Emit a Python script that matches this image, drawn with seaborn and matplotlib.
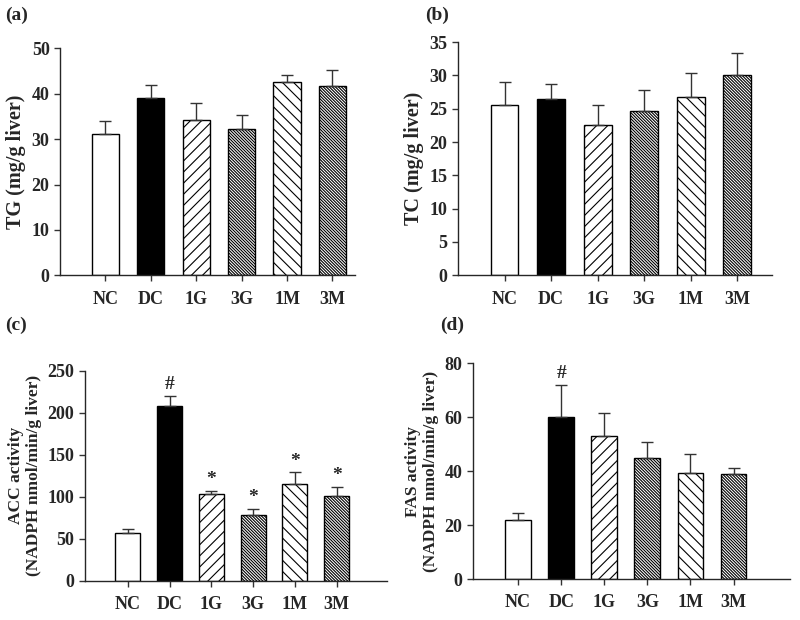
import matplotlib
matplotlib.use('Agg')
import matplotlib.pyplot as plt
import seaborn as sns
import pandas as pd

# ── data ───────────────────────────────────────────────────
groups = ['NC', 'DC', '1G', '3G', '1M', '3M']

tg_mean = [31.1, 39.0, 34.3, 32.3, 42.6, 41.8]
tg_err = [3.0, 3.0, 3.7, 3.1, 1.6, 3.5]

tc_mean = [25.5, 26.4, 22.6, 24.6, 26.7, 30.1]
tc_err = [3.5, 2.3, 3.0, 3.2, 3.6, 3.2]

acc_mean = [57, 208, 103, 79, 115, 101]
acc_err = [5, 12, 4, 7, 14, 11]
acc_marks = ['', '#', '*', '*', '*', '*']

fas_mean = [22.0, 60.2, 53.0, 44.8, 39.5, 39.0]
fas_err = [2.5, 11.8, 8.5, 6.2, 6.8, 2.3]
fas_marks = ['', '#', '', '', '', '']

# ── style ──────────────────────────────────────────────────
sns.set_style('ticks')
plt.rcParams.update({'font.family': ['Liberation Serif', 'DejaVu Serif'],
                     'font.weight': 'bold', 'axes.labelweight': 'bold',
                     'hatch.linewidth': 0.8, 'axes.linewidth': 1.0})

fills = ['white', 'black', 'white', 'white', 'white', 'white']
hatches = ['', '', '///', '\\' * 11, '\\\\\\', '\\' * 11]


def panel(ax, mean, err, ylabel, ylsize, ymax, ystep, xlim, marks=None):
    df = pd.DataFrame({'group': groups, 'value': mean})
    sns.barplot(data=df, x='group', y='value', hue='group', palette=fills,
                order=groups, hue_order=groups, legend=False, width=0.6,
                edgecolor='black', linewidth=1.0, errorbar=None, ax=ax)
    xs = []
    for p, h in zip(ax.patches, hatches):
        p.set_hatch(h)
        xs.append(p.get_x() + p.get_width() / 2)
    ax.errorbar(xs, mean, yerr=[[0] * len(err), err], fmt='none',
                ecolor='#333333', elinewidth=1.0, capsize=4, capthick=1.0,
                zorder=1)
    if marks:
        for x, m, e, mk in zip(xs, mean, err, marks):
            if mk:
                ax.annotate(mk, (x, m + e), xytext=(0, 2),
                            textcoords='offset points', ha='center',
                            va='bottom', fontsize=14, fontweight='bold')
    ax.set_ylim(0, ymax)
    ax.set_yticks(range(0, ymax + 1, ystep))
    ax.set_xlim(*xlim)
    ax.set_xlabel('')
    ax.set_ylabel(ylabel, fontsize=ylsize, fontweight='bold')
    ax.tick_params(axis='both', labelsize=13, length=4, width=1, color='#333333')
    ax.tick_params(axis='x', pad=7)
    for t in ax.get_xticklabels() + ax.get_yticklabels():
        t.set_fontweight('bold')
    sns.despine(ax=ax)


fig = plt.figure(figsize=(8, 6.2), dpi=100)
ax_a = fig.add_axes([0.075, 0.556, 0.369, 0.366])
ax_b = fig.add_axes([0.5725, 0.556, 0.3925, 0.376])
ax_c = fig.add_axes([0.106, 0.063, 0.3775, 0.339])
ax_d = fig.add_axes([0.591, 0.066, 0.396, 0.348])

panel(ax_a, tg_mean, tg_err, 'TG (mg/g liver)', 14.5, 50, 10, (-1.0, 5.5))
panel(ax_b, tc_mean, tc_err, 'TC (mg/g liver)', 14.5, 35, 5, (-1.0, 5.75))
panel(ax_c, acc_mean, acc_err, 'ACC activity\n(NADPH nmol/min/g liver)', 12.5,
      250, 50, (-1.03, 6.2), acc_marks)
panel(ax_d, fas_mean, fas_err, 'FAS activity\n(NADPH nmol/min/g liver)', 12.5,
      80, 20, (-1.05, 6.3), fas_marks)

for lbl, x, y in [('(a)', 0.006, 0.976), ('(b)', 0.531, 0.976),
                  ('(c)', 0.006, 0.476), ('(d)', 0.55, 0.476)]:
    fig.text(x, y, lbl, fontsize=14, fontweight='bold', va='center')

fig.savefig('out.png', dpi=100)
